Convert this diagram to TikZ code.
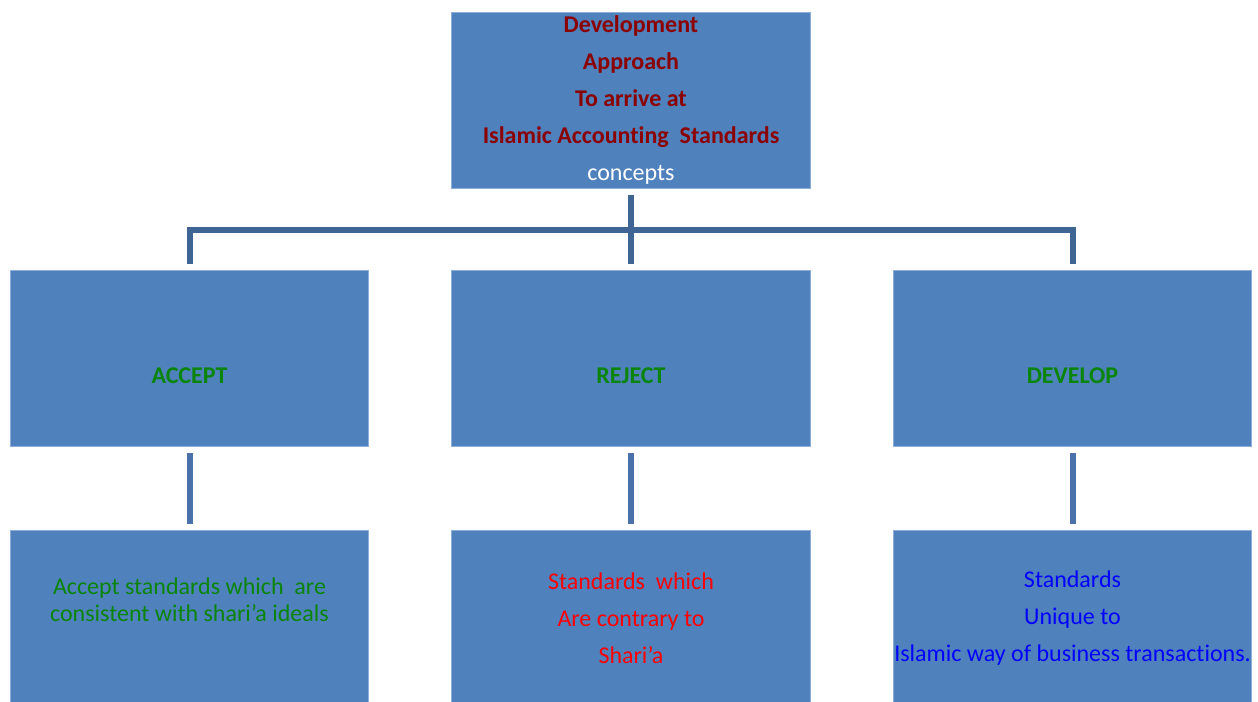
\documentclass[tikz,border=0pt]{standalone}
\usepackage{fontspec}
\setmainfont{Carlito}[RawFeature={-liga;-clig;-calt;-dlig}]
\usetikzlibrary{positioning}

\definecolor{boxblue}{HTML}{4F81BD}
\definecolor{boxedge}{HTML}{8EAEDA}
\definecolor{trunkblue}{HTML}{3E6594}
\definecolor{linkblue}{HTML}{4A71A9}
\definecolor{titlered}{HTML}{8B0000}
\definecolor{leafgreen}{HTML}{0A850A}

\begin{document}
\begin{tikzpicture}
		[x=0.75pt, y=-0.75pt,
		box/.style = {draw=boxedge, fill=boxblue, line width=0.7pt, inner sep=0pt,
			minimum width=269pt, minimum height=132.5pt, align=center},
		big/.style = {font=\fontsize{18}{27.75}\selectfont},
		head/.style = {box, font=\fontsize{18}{27.75}\selectfont\bfseries, text=leafgreen, text height=37pt},
		trunk/.style = {draw=trunkblue, line width=4.5pt},
		link/.style = {draw=linkblue, line width=4.5pt, shorten <=4.5pt, shorten >=4.5pt}]
        \useasboundingbox (0,0) rectangle (1258,701);
        \clip (0,0) rectangle (1258,701);

        % top
        \node[box, big] (top) at (631,100.5) {\textcolor{titlered}{\bfseries Development}\\
        	\textcolor{titlered}{\bfseries Approach}\\
        	\textcolor{titlered}{\bfseries To arrive at}\\
        	\textcolor{titlered}{\bfseries Islamic Accounting~ Standards}\\
        	\textcolor{white}{concepts}};

        % middle row
        \node[head] (accept) at (189.5,358.5) {ACCEPT};
        \node[head] (reject) at (631,358.5) {REJECT};
        \node[head] (develop) at (1072.5,358.5) {DEVELOP};

        % bottom row
        \node[box] (acceptnote) at (189.5,618.5) {};
        \node[font=\fontsize{18}{20.25}\selectfont, text=leafgreen, align=center] (accepttext)
        	at (189.5,599.5) {Accept standards which~ are\\consistent with shari’a ideals};
        \node[box, big, text=red] (rejectnote) at (631,618.5) {Standards~ which\\Are contrary to\\Shari’a};
        \node[box, big, text=blue] (developnote) at (1072.5,618.5) {Standards\\Unique to\\Islamic way of business transactions.};

        % connectors
        \coordinate (bar) at (631,229.5);
        \draw[trunk, shorten <=4.5pt, shorten >=4.5pt] (top.south) -- (reject.north);
        \draw[trunk, line cap=rect] (accept.north |- bar) -- (develop.north |- bar);
        \draw[trunk, shorten >=4.5pt] (accept.north |- bar) -- (accept.north);
        \draw[trunk, shorten >=4.5pt] (develop.north |- bar) -- (develop.north);

        \draw[link] (accept) -- (acceptnote);
        \draw[link] (reject) -- (rejectnote);
        \draw[link] (develop) -- (developnote);
	\end{tikzpicture}
\end{document}
